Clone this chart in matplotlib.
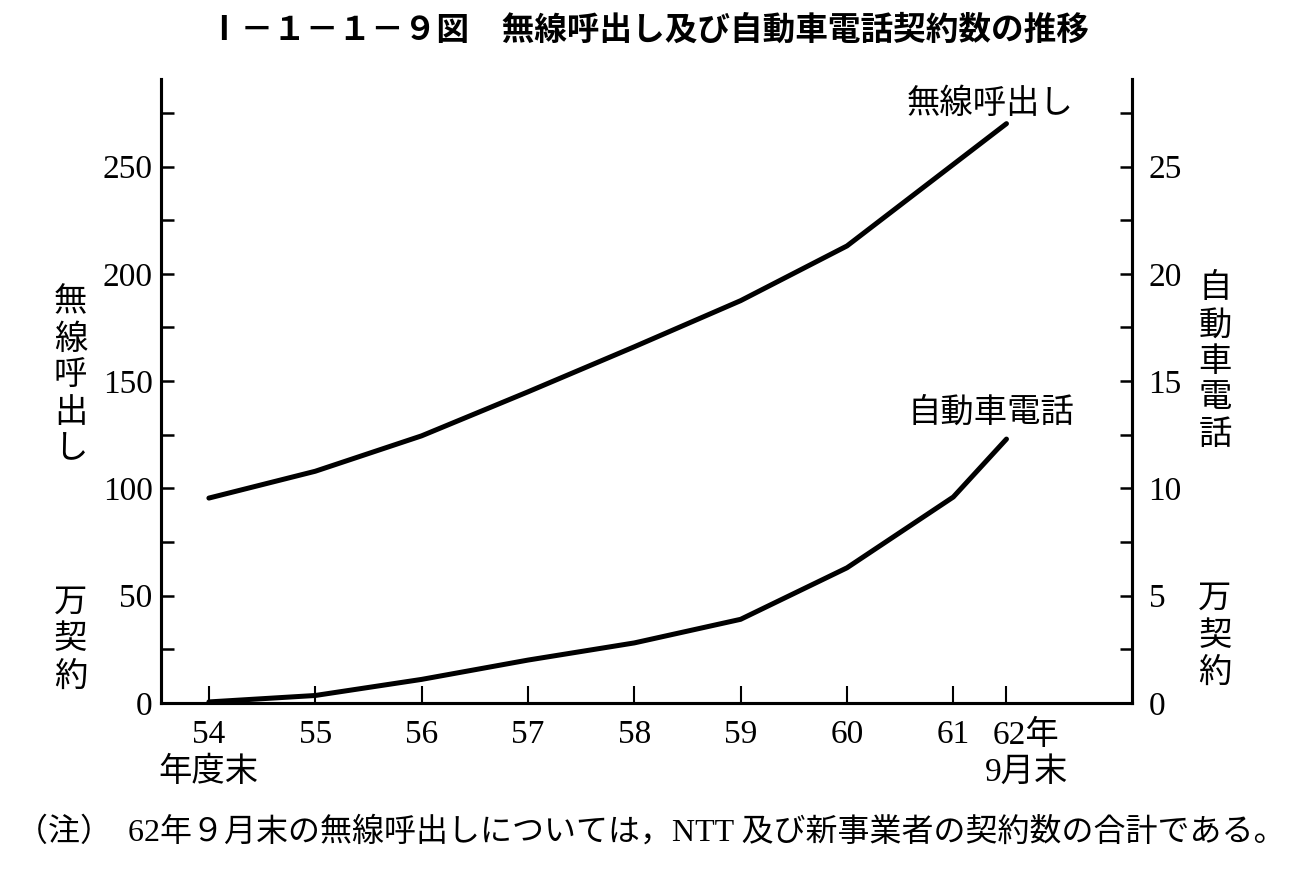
import numpy as np
import matplotlib
matplotlib.use("Agg")
import matplotlib.pyplot as plt

plt.rcParams['font.family'] = ['Liberation Serif', 'Noto Sans CJK JP']

# fiscal year ends (last point is 62年9月末, half a year after 61年度末)
years = [54, 55, 56, 57, 58, 59, 60, 61, 61.5]
year_labels = ['54\n年度末', '55', '56', '57', '58', '59', '60', '61', '']
paging = [95.5, 108, 124.5, 145, 166, 187.5, 213, 251, 270]    # 無線呼出し, 万契約 (left axis)
carphone = [0.05, 0.35, 1.1, 2.0, 2.8, 3.9, 6.3, 9.6, 12.3]     # 自動車電話, 万契約 (right axis)

left_ticks = np.arange(0, 291, 25)
right_ticks = np.arange(0, 29.1, 2.5)

fig = plt.figure(figsize=(13.05, 8.77), dpi=100)
ax = fig.add_axes([0.1234, 0.1984, 0.744, 0.712])
ax2 = ax.twinx()

ax.plot(years, paging, color='black', lw=3.6, solid_capstyle='round')
ax2.plot(years, carphone, color='black', lw=3.6, solid_capstyle='round')

ax.set_xlim(53.55, 62.68)
ax.set_ylim(0, 291)
ax2.set_ylim(0, 29.1)

for a in (ax, ax2):
    a.spines['top'].set_visible(False)
    for s in a.spines.values():
        s.set_linewidth(2.2)

ax.set_xticks(years)
ax.set_xticklabels(year_labels, fontsize=24, linespacing=1.25)
ax.tick_params(axis='x', direction='in', length=12, width=1.5, pad=12)

ax.set_yticks(left_ticks)
ax.set_yticklabels([str(int(t)) if t % 50 == 0 else '' for t in left_ticks], fontsize=24)
ax.tick_params(axis='y', direction='in', length=9, width=1.8, pad=6)

ax2.set_yticks(right_ticks)
ax2.set_yticklabels([str(int(t)) if t % 5 == 0 else '' for t in right_ticks], fontsize=24)
ax2.tick_params(axis='y', direction='in', length=9, width=1.8, pad=12)

ax.annotate('62年\n9月末', xy=(61.5, 0), xycoords=ax.get_xaxis_transform(),
            xytext=(20, -17), textcoords='offset pixels', ha='center', va='top',
            fontsize=24, linespacing=1.25)

# line labels
ax.text(61.35, 279, '無線呼出し', fontsize=24, ha='center', va='center')
ax2.text(61.35, 13.5, '自動車電話', fontsize=24, ha='center', va='center')

# axis labels, written vertically
fig.text(0.054, 0.571, '無\n線\n呼\n出\nし', fontsize=24, ha='center', va='center', linespacing=1.25)
fig.text(0.054, 0.27, '万\n契\n約', fontsize=24, ha='center', va='center', linespacing=1.25)
fig.text(0.931, 0.587, '自\n動\n車\n電\n話', fontsize=24, ha='center', va='center', linespacing=1.25)
fig.text(0.931, 0.274, '万\n契\n約', fontsize=24, ha='center', va='center', linespacing=1.25)

fig.text(0.497, 0.966, 'Ⅰ－１－１－９図　無線呼出し及び自動車電話契約数の推移',
         fontsize=23.5, fontweight='bold', ha='center', va='center',
         family=['Noto Sans CJK JP', 'DejaVu Sans'])
fig.text(0.012, 0.051, '（注）  62年９月末の無線呼出しについては，NTT 及び新事業者の契約数の合計である。',
         fontsize=23, ha='left', va='center')

fig.savefig('out.png', dpi=100, facecolor='white')
